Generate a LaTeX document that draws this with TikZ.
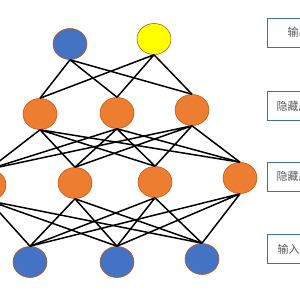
\documentclass[tikz,border=0pt]{standalone}
\usepackage{fontspec}
\usepackage{xcolor,tikz}
\usetikzlibrary{shapes.geometric}
\newfontfamily\cjk{Noto Sans CJK SC}
\definecolor{nodeblue}{HTML}{4472C4}
\definecolor{nodeorange}{HTML}{ED7D31}
\definecolor{nodeyellow}{HTML}{FFFF00}
\definecolor{nodeedge}{HTML}{C55A11}
\definecolor{boxline}{HTML}{41719C}
\definecolor{boxtext}{HTML}{595959}
\tikzset{netnode/.style={ellipse,draw=nodeedge,line width=0.6pt,minimum width=34pt,minimum height=31pt,inner sep=0pt},netedge/.style={line width=1.5pt,draw=black},netlabel/.style={draw=boxline,line width=1pt,anchor=west,minimum height=29pt,inner xsep=9pt,font=\cjk\fontsize{11}{13}\selectfont,text=boxtext}}

\begin{document}
\begin{tikzpicture}[x=1pt,y=-1pt]
\useasboundingbox (0,0) rectangle (300,300);
\clip (0,0) rectangle (300,300);
\node[netnode,fill=nodeblue] (o1) at (70,44) {};
\node[netnode,fill=nodeyellow] (o2) at (154,39) {};
\node[netnode,fill=nodeorange] (ha1) at (40,114) {};
\node[netnode,fill=nodeorange] (ha2) at (117,113) {};
\node[netnode,fill=nodeorange] (ha3) at (192,110) {};
\node[netnode,fill=nodeorange] (hb1) at (-11,185) {};
\node[netnode,fill=nodeorange] (hb2) at (75,183) {};
\node[netnode,fill=nodeorange] (hb3) at (155,182) {};
\node[netnode,fill=nodeorange] (hb4) at (240,178) {};
\node[netnode,fill=nodeblue] (in1) at (30,262) {};
\node[netnode,fill=nodeblue] (in2) at (117,262) {};
\node[netnode,fill=nodeblue] (in3) at (202,259) {};
\draw[netedge] (o1.south)--(ha1.north) (o1.south)--(ha2.north) (o1.south)--(ha3.north);
\draw[netedge] (o2.south)--(ha1.north) (o2.south)--(ha2.north) (o2.south)--(ha3.north);
\draw[netedge] (ha1.south)--(hb1.north) (ha1.south)--(hb2.north) (ha1.south)--(hb3.north) (ha1.south)--(hb4.north);
\draw[netedge] (ha2.south)--(hb1.north) (ha2.south)--(hb2.north) (ha2.south)--(hb3.north) (ha2.south)--(hb4.north);
\draw[netedge] (ha3.south)--(hb1.north) (ha3.south)--(hb2.north) (ha3.south)--(hb3.north) (ha3.south)--(hb4.north);
\draw[netedge] (hb1.south)--(in1.north) (hb1.south)--(in2.north) (hb1.south)--(in3.north);
\draw[netedge] (hb2.south)--(in1.north) (hb2.south)--(in2.north) (hb2.south)--(in3.north);
\draw[netedge] (hb3.south)--(in1.north) (hb3.south)--(in2.north) (hb3.south)--(in3.north);
\draw[netedge] (hb4.south)--(in1.north) (hb4.south)--(in2.north) (hb4.south)--(in3.north);
\node[netlabel,inner xsep=20pt] (lout) at (267,32.5) {输出层};
\node[netlabel] (lhida) at (267,106) {隐藏层};
\node[netlabel] (lhidb) at (267,176.5) {隐藏层};
\node[netlabel,inner xsep=10pt] (lin) at (267,249) {输入层};
\end{tikzpicture}
\end{document}
